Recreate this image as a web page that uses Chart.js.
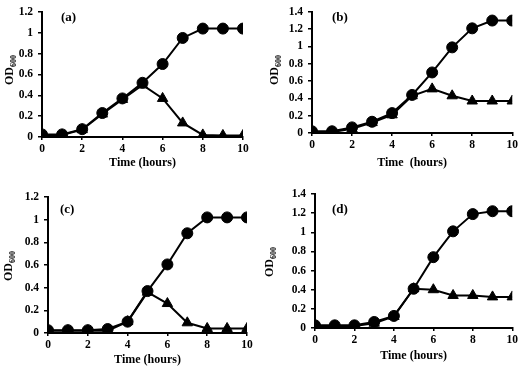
<!DOCTYPE html>
<html>
<head>
<meta charset="utf-8">
<script src="https://cdn.jsdelivr.net/npm/chart.js@4.4.0/dist/chart.umd.min.js"></script>
<style>
  body { margin: 0; background: #fff; }
  #wrap { position: relative; width: 520px; height: 367px; }
  .panel { position: absolute; }
</style>
</head>
<body>
<div id="wrap">
  <div class="panel" style="left:0;top:0;width:260px;height:182px"><canvas id="ca"></canvas></div>
  <div class="panel" style="left:260px;top:0;width:260px;height:182px"><canvas id="cb"></canvas></div>
  <div class="panel" style="left:0;top:182px;width:260px;height:185px"><canvas id="cc"></canvas></div>
  <div class="panel" style="left:260px;top:182px;width:260px;height:185px"><canvas id="cd"></canvas></div>
</div>
<script>
// Time points (hours)
const hours = [0, 1, 2, 3, 4, 5, 6, 7, 8, 9, 10];

// Panel (a)
const circlesA = [0.025, 0.025, 0.075, 0.23, 0.37, 0.52, 0.70, 0.95, 1.04, 1.04, 1.04];
const trianglesA = [0.02, 0.02, 0.07, 0.22, 0.36, 0.50, 0.37, 0.135, 0.02, 0.015, 0.015];
// Panel (b)
const circlesB = [0.02, 0.02, 0.065, 0.13, 0.23, 0.44, 0.70, 0.99, 1.21, 1.30, 1.30];
const trianglesB = [0.01, 0.01, 0.05, 0.12, 0.21, 0.43, 0.51, 0.43, 0.37, 0.37, 0.37];
// Panel (c)
const circlesC = [0.025, 0.025, 0.025, 0.035, 0.10, 0.37, 0.605, 0.88, 1.02, 1.02, 1.02];
const trianglesC = [0.02, 0.02, 0.02, 0.02, 0.10, 0.36, 0.26, 0.09, 0.04, 0.04, 0.04];
// Panel (d)
const circlesD = [0.028, 0.028, 0.028, 0.063, 0.126, 0.41, 0.74, 1.01, 1.19, 1.22, 1.22];
const trianglesD = [0.02, 0.02, 0.02, 0.05, 0.12, 0.41, 0.40, 0.34, 0.34, 0.325, 0.325];

const xTicks = [0, 2, 4, 6, 8, 10];
const xTitle = 'Time (hours)';
const xTitleB = 'Time  (hours)';

const serif = '"Liberation Serif", "Times New Roman", serif';

function pts(vals) {
    return vals.map((v, i) => ({ x: hours[i], y: v }));
}

// draws the panel letter and the OD600 axis title
const labelPlugin = {
    id: 'labels',
    afterDraw(chart, args, opts) {
        const ctx = chart.ctx;
        ctx.save();
        ctx.fillStyle = '#000';
        ctx.font = 'bold 13px ' + serif;
        ctx.textBaseline = 'middle';
        ctx.textAlign = 'left';
        ctx.fillText(opts.letter, opts.lx, opts.ly);

        // rotated OD with subscript 600
        ctx.translate(opts.tx, opts.ty);
        ctx.rotate(-Math.PI / 2);
        ctx.font = 'bold 12px ' + serif;
        const w1 = ctx.measureText('OD').width;
        ctx.font = 'bold 8px ' + serif;
        const w2 = ctx.measureText('600').width;
        const start = -(w1 + w2) / 2;
        ctx.font = 'bold 12px ' + serif;
        ctx.fillText('OD', start, 0);
        ctx.font = 'bold 8px ' + serif;
        ctx.fillText('600', start + w1, 4);
        ctx.restore();
    }
};

function makePanel(id, circles, triangles, cfg) {
    const ctx = document.getElementById(id).getContext('2d');
    return new Chart(ctx, {
        type: 'line',
        data: {
            datasets: [
                {
                    data: pts(circles),
                    borderColor: '#000',
                    backgroundColor: '#000',
                    borderWidth: 2,
                    pointStyle: 'circle',
                    pointRadius: 5.5,
                    pointBorderWidth: 1,
                    tension: 0
                },
                {
                    data: pts(triangles),
                    borderColor: '#000',
                    backgroundColor: '#000',
                    borderWidth: 2,
                    pointStyle: 'triangle',
                    pointRadius: 6,
                    pointBorderWidth: 1,
                    tension: 0
                }
            ]
        },
        options: {
            responsive: true,
            maintainAspectRatio: false,
            animation: false,
            layout: { padding: { left: 0, top: cfg.top, right: cfg.right, bottom: cfg.bottom } },
            plugins: {
                legend: { display: false },
                tooltip: { enabled: false },
                labels: { letter: cfg.letter, lx: cfg.lx, ly: cfg.ly, tx: cfg.tx, ty: cfg.ty }
            },
            scales: {
                x: {
                    type: 'linear',
                    min: 0,
                    max: 10,
                    afterBuildTicks: s => { s.ticks = xTicks.map(v => ({ value: v })); },
                    afterFit: s => { s.height = cfg.xh; },
                    grid: { display: true, drawOnChartArea: false, tickLength: 3, color: '#000', lineWidth: 1.5 },
                    border: { color: '#000', width: 2 },
                    ticks: { color: '#000', padding: 2, maxRotation: 0, font: { family: serif, size: 11.5, weight: 'bold' } },
                    title: {
                        display: true,
                        text: cfg.xTitle,
                        color: '#000',
                        padding: 0,
                        font: { family: serif, size: 12, weight: 'bold' }
                    }
                },
                y: {
                    min: 0,
                    max: cfg.ymax,
                    afterFit: s => { s.width = cfg.yw; },
                    grid: { display: true, drawOnChartArea: false, tickLength: 4, color: '#000', lineWidth: 1.5 },
                    border: { color: '#000', width: 2 },
                    ticks: {
                        stepSize: 0.2,
                        color: '#000',
                        padding: 5,
                        font: { family: serif, size: 11.5, weight: 'bold' },
                        callback: v => String(Math.round(v * 10) / 10)
                    }
                }
            }
        },
        plugins: [labelPlugin]
    });
}

makePanel('ca', circlesA, trianglesA, {
    letter: '(a)', lx: 61, ly: 18, tx: 10, ty: 70,
    ymax: 1.2, yw: 42, xh: 33, top: 5, right: 17, bottom: 12, xTitle: xTitle
});
makePanel('cb', circlesB, trianglesB, {
    letter: '(b)', lx: 72, ly: 18, tx: 15, ty: 70,
    ymax: 1.4, yw: 52, xh: 37, top: 5, right: 6, bottom: 12, xTitle: xTitleB
});
makePanel('cc', circlesC, trianglesC, {
    letter: '(c)', lx: 60, ly: 28, tx: 9, ty: 84,
    ymax: 1.2, yw: 48, xh: 34, top: 15, right: 13, bottom: 0, xTitle: xTitle
});
makePanel('cd', circlesD, trianglesD, {
    letter: '(d)', lx: 72, ly: 28, tx: 10, ty: 80,
    ymax: 1.4, yw: 55, xh: 35, top: 12, right: 6, bottom: 4, xTitle: xTitle
});
</script>
</body>
</html>
